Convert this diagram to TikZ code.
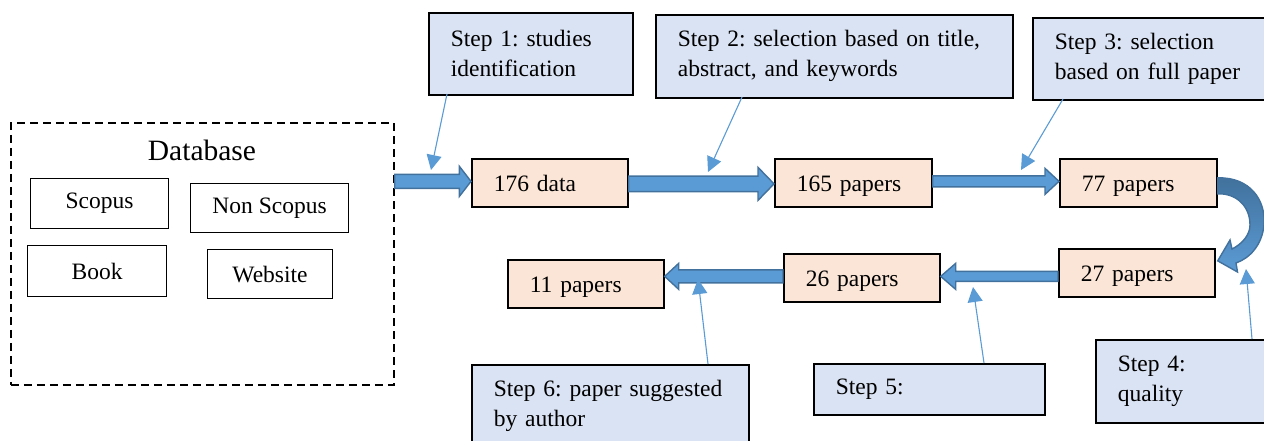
\documentclass[tikz,border=0pt]{standalone}
\usepackage{fontspec}
\setmainfont{Liberation Serif}
\usetikzlibrary{arrows.meta,calc}
\definecolor{stepfill}{HTML}{DAE3F3}
\definecolor{numfill}{HTML}{FBE5D6}
\definecolor{arrfill}{HTML}{5B9BD5}
\definecolor{arrline}{HTML}{41719C}
\newcommand{\barrow}[5]{% start, tip, half shaft, half head, head length
  \draw[blockarrow] let \p1=(#1), \p2=(#2), \p3=($(#2)!#5pt!(#1)$) in
    (\x1,\y2+#3pt) -- (\x3,\y2+#3pt) -- (\x3,\y2+#4pt) -- (\x2,\y2)
    -- (\x3,\y2-#4pt) -- (\x3,\y2-#3pt) -- (\x1,\y2-#3pt) -- cycle;}
\frenchspacing
\begin{document}
\begin{tikzpicture}[x=1pt,y=-1pt,
  every node/.style={font=\fontsize{23.5}{30}\selectfont\frenchspacing},
  numbox/.style={draw=black, line width=1.7pt, fill=numfill, anchor=north west,
    inner xsep=22pt, inner ysep=0pt, text width=112pt, minimum height=48pt, align=left,
    text height=18pt, text depth=0pt},
  stepbox/.style={draw=black, line width=1.7pt, fill=stepfill, anchor=north west,
    inner xsep=22pt, inner ysep=0pt, align=left},
  srcbox/.style={draw=black, line width=1.1pt, anchor=north west, inner sep=0pt, align=center},
  blockarrow/.style={fill=arrfill, draw=arrline, line width=1.4pt, line join=miter},
  pointer/.style={draw=arrfill, line width=1.1pt, -{Triangle[length=15pt,width=15pt]}}]
\useasboundingbox (0,0) rectangle (1264,440);
\clip (0,0) rectangle (1264,440);

% Database group
\node[draw=black, line width=1.7pt, dash pattern=on 8pt off 5pt, anchor=north west,
  minimum width=383pt, minimum height=262pt, inner sep=0pt] (db) at (10,122) {};
\node[anchor=base, font=\fontsize{29.5}{34}\selectfont] (dbl) at (202,160) {Database};
\node[srcbox, minimum width=138pt, minimum height=50pt] (scopus) at (30,178) {Scopus};
\node[srcbox, minimum width=158pt, minimum height=49pt] (nonscopus) at (190,183) {Non Scopus};
\node[srcbox, minimum width=139pt, minimum height=51pt] (book) at (27,245) {Book};
\node[srcbox, minimum width=125pt, minimum height=49pt] (website) at (207,249) {Website};

% count boxes
\node[numbox] (d176) at (471,158) {176 data};
\node[numbox, text width=113pt] (p165) at (774,158) {165 papers};
\node[numbox, text width=113pt] (p77) at (1059,158) {77 papers};
\node[numbox] (p27) at (1058,248) {27 papers};
\node[numbox] (p26) at (783,253) {26 papers};
\node[numbox] (p11) at (507,259) {11 papers};

% step boxes
\node[stepbox, text width=160pt, minimum height=82pt] (s1) at (428,12) {Step 1: studies\\identification};
\node[stepbox, text width=313pt, minimum height=83pt] (s2) at (655,14) {Step 2: selection based on title,\\abstract, and keywords};
\node[stepbox, text width=224pt, minimum height=82pt] (s3) at (1032,17) {Step 3: selection\\based on full paper};
\node[stepbox, text width=161pt, minimum height=83pt] (s4) at (1095,339) {Step 4:\\quality};
\node[stepbox, text width=187pt, minimum height=51pt] (s5) at (813,363) {Step 5:};
\node[stepbox, text width=233pt, minimum height=82pt] (s6) at (471,364) {Step 6: paper suggested\\by author};

% block arrows
\barrow{db.east}{$(d176.west)+(0,-1.5)$}{7}{15}{16}
\barrow{d176.east}{$(p165.west)+(0,1)$}{7.8}{16.5}{16}
\barrow{p165.east}{$(p77.west)+(0,-1.5)$}{5.5}{13}{14}
\barrow{p27.west}{$(p26.east)+(0,-1.5)$}{5}{13}{15}
\barrow{p26.west}{$(p11.east |- p26.west)+(0,-1.5)$}{6.5}{13}{14}

% curved arrow 77 -> 27
\draw[blockarrow, top color=arrline, bottom color=arrfill]
  ($(p77.east)+(0,-5)$) .. controls (1250,177) and (1266,200) .. (1264,225)
  .. controls (1262,245) and (1250,258) .. (1236,263)
  -- (1237.5,272) -- ($(p27.east)+(2,-12)$) -- (1230,240) -- (1232,249)
  .. controls (1242,244) and (1250,235) .. (1250,225)
  .. controls (1250,205) and (1235,193) .. ($(p77.east)+(0,11)$) -- cycle;

% pointers
\coordinate (s1a) at (447,94);   \coordinate (s1b) at (431,170);
\coordinate (s2a) at (742,97);   \coordinate (s2b) at (708,172);
\coordinate (s3a) at (1063,99);  \coordinate (s3b) at (1021,170);
\coordinate (s4a) at (1252,339); \coordinate (s4b) at (1246,269);
\coordinate (s5a) at (984,363);  \coordinate (s5b) at (973,287);
\coordinate (s6a) at (708,364);  \coordinate (s6b) at (698,279);
\draw[pointer] (s1a) -- (s1b);
\draw[pointer] (s2a) -- (s2b);
\draw[pointer] (s3a) -- (s3b);
\draw[pointer] (s4a) -- (s4b);
\draw[pointer] (s5a) -- (s5b);
\draw[pointer] (s6a) -- (s6b);
\end{tikzpicture}
\end{document}
